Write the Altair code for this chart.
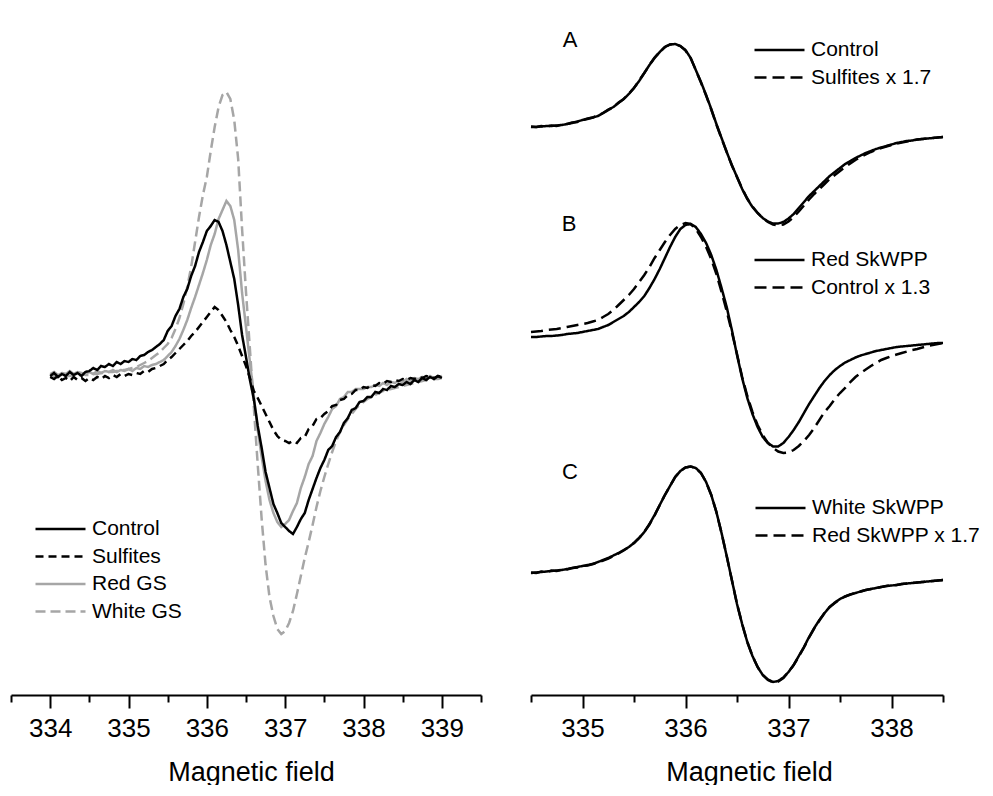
import altair as alt
import pandas as pd

FONT = "Liberation Sans"

# ---------------- left panel data (field in G, signal in a.u.) ----------------
field_left = [334.00, 334.05, 334.10, 334.15, 334.20, 334.25, 334.30, 334.35, 334.40, 334.45,
              334.50, 334.55, 334.60, 334.65, 334.70, 334.75, 334.80, 334.85, 334.90, 334.95,
              335.00, 335.05, 335.10, 335.15, 335.20, 335.25, 335.30, 335.35, 335.40, 335.45,
              335.50, 335.55, 335.60, 335.65, 335.70, 335.75, 335.80, 335.85, 335.90, 335.95,
              336.00, 336.05, 336.10, 336.15, 336.20, 336.25, 336.30, 336.35, 336.40, 336.45,
              336.50, 336.55, 336.60, 336.65, 336.70, 336.75, 336.80, 336.85, 336.90, 336.95,
              337.00, 337.05, 337.10, 337.15, 337.20, 337.25, 337.30, 337.35, 337.40, 337.45,
              337.50, 337.55, 337.60, 337.65, 337.70, 337.75, 337.80, 337.85, 337.90, 337.95,
              338.00, 338.05, 338.10, 338.15, 338.20, 338.25, 338.30, 338.35, 338.40, 338.45,
              338.50, 338.55, 338.60, 338.65, 338.70, 338.75, 338.80, 338.85, 338.90, 338.95, 339.00]

control = [1, 4, 0, 3, 1, 5, 2, 4, 1, 5,
           6, 9, 7, 11, 10, 13, 11, 15, 13, 16,
           15, 18, 17, 21, 22, 25, 27, 30, 33, 37,
           46, 51, 61, 68, 80, 88, 101, 111, 125, 135,
           146, 151, 157, 155, 146, 132, 115, 98, 72, 42,
           20, -3, -22, -49, -71, -95, -111, -127, -136, -146,
           -150, -154, -157, -150, -142, -136, -123, -112, -101, -91,
           -83, -73, -69, -60, -55, -46, -41, -33, -31, -25,
           -24, -20, -20, -15, -16, -12, -13, -9, -10, -7,
           -8, -5, -7, -3, -5, -1, -3, 0, -2, 1, -1]

sulfites = [0, -2, 1, -3, -1, -4, 0, -3, -1, -4,
            -1, -3, 0, -2, 1, -1, 2, 0, 3, 1,
            3, 2, 4, 3, 6, 5, 8, 9, 11, 13,
            17, 20, 24, 28, 32, 36, 41, 45, 50, 55,
            60, 65, 70, 67, 61, 55, 47, 40, 31, 21,
            11, -1, -14, -21, -29, -37, -45, -53, -59, -63,
            -64, -66, -64, -66, -61, -60, -52, -49, -42, -41,
            -37, -34, -29, -28, -23, -22, -18, -17, -13, -13,
            -10, -11, -8, -9, -6, -7, -4, -5, -3, -4,
            -2, -3, -1, -2, 0, -1, 1, 0, -1, 1, 0]

red_gs = [3, 5, 2, 4, 3, 6, 3, 5, 4, 3,
          5, 3, 6, 4, 6, 5, 7, 5, 7, 6,
          8, 6, 9, 8, 11, 10, 12, 13, 15, 17,
          21, 25, 31, 38, 47, 57, 69, 80, 92, 104,
          117, 132, 143, 158, 167, 176, 171, 157, 127, 84,
          50, 15, -19, -53, -80, -104, -123, -136, -145, -150,
          -147, -143, -134, -126, -111, -100, -87, -79, -64, -56,
          -47, -40, -32, -29, -22, -20, -15, -15, -12, -12,
          -12, -10, -10, -8, -9, -6, -8, -5, -6, -4,
          -5, -2, -4, -1, -2, 0, -2, 1, -1, 0, 1]

white_gs = [0, 1, 0, 2, 1, 1, 2, 1, 3, 2,
            2, 3, 3, 4, 4, 5, 5, 6, 7, 7,
            8, 9, 10, 12, 14, 16, 19, 22, 25, 29,
            33, 39, 48, 59, 73, 90, 110, 135, 160, 182,
            200, 226, 250, 270, 282, 285, 278, 257, 218, 148,
            85, 28, -30, -88, -142, -188, -220, -239, -252, -257,
            -254, -246, -234, -217, -199, -181, -165, -148, -130, -114,
            -100, -87, -75, -64, -55, -48, -42, -37, -32, -28,
            -25, -22, -20, -18, -16, -14, -13, -12, -11, -10,
            -9, -8, -7, -6, -5, -4, -3, -3, -2, -2, -1]

# ---------------- right panel data ----------------
field_right = [334.50, 334.55, 334.60, 334.65, 334.70, 334.75, 334.80, 334.85, 334.90, 334.95,
               335.00, 335.05, 335.10, 335.15, 335.20, 335.25, 335.30, 335.35, 335.40, 335.45,
               335.50, 335.55, 335.60, 335.65, 335.70, 335.75, 335.80, 335.85, 335.90, 335.95,
               336.00, 336.05, 336.10, 336.15, 336.20, 336.25, 336.30, 336.35, 336.40, 336.45,
               336.50, 336.55, 336.60, 336.65, 336.70, 336.75, 336.80, 336.85, 336.90, 336.95,
               337.00, 337.05, 337.10, 337.15, 337.20, 337.25, 337.30, 337.35, 337.40, 337.45,
               337.50, 337.55, 337.60, 337.65, 337.70, 337.75, 337.80, 337.85, 337.90, 337.95,
               338.00, 338.05, 338.10, 338.15, 338.20, 338.25, 338.30, 338.35, 338.40, 338.45, 338.50]

a_control = [0, 0, 0.5, 1, 1, 1.5, 2, 3, 4, 5.5,
             7, 8, 9.5, 11, 14, 17, 20, 24, 28, 33,
             39, 46, 54, 62, 69, 75, 80, 82.5, 83, 81,
             77, 69, 57, 45, 32, 18, 3, -11, -25, -38,
             -50, -62, -72, -80, -86, -91, -94.5, -96.5, -96.5, -95,
             -91.5, -87, -81, -75, -69, -64, -59, -54, -49, -45,
             -41, -37, -34, -31, -28.5, -26, -24, -22, -20.5, -19,
             -17.5, -16, -15, -14, -13.5, -12.5, -12, -11.5, -11, -10.5, -10]

a_sulfites = [0.5, 0, 1, 0.5, 1.5, 1, 2.5, 3, 4.5, 5,
              7, 8.5, 9.5, 11.5, 14, 17.5, 20, 24.5, 28, 33.5,
              39, 46.5, 54, 62, 69.5, 75, 80, 82.5, 83, 81,
              76.5, 69, 57, 44.5, 31.5, 17.5, 2.5, -11.5, -25, -38.5,
              -50, -61.5, -71.5, -79.5, -86, -91, -95, -97.5, -98.5, -97.5,
              -94.5, -90, -84.5, -78.5, -72.5, -67, -62, -57, -52, -48,
              -44, -40, -36.5, -33, -30, -27.5, -25, -23, -21, -19.5,
              -18, -16.5, -15.5, -14.5, -13.5, -12.5, -12, -11.5, -11, -10.5, -10]

b_red = [0, 0, 0.5, 1, 1, 1.5, 2, 3, 3.5, 4,
         5, 6, 7, 8, 10, 12, 15, 18, 21, 25,
         30, 35, 41, 49, 58, 68, 79, 90, 100, 108,
         112, 113, 110, 103, 94, 82, 67, 49, 30, 7,
         -18, -41, -61, -77, -90, -100, -106, -109.5, -109.5, -106,
         -100, -93, -85, -76, -67, -59, -51, -44, -38, -33,
         -29, -25.5, -23, -20.5, -18.5, -17, -15.5, -14, -13, -12,
         -11, -10, -9.5, -9, -8.5, -8, -7.5, -7, -6.5, -6, -6]

b_control = [5, 5.5, 6, 7, 7.5, 8, 9, 10, 11, 12,
             13, 14, 15.5, 17, 20, 23, 27, 32, 37, 42,
             48, 55, 62, 70, 79, 87, 95, 102, 108, 112,
             114, 113, 108, 100, 90, 78, 63, 45, 26, 5,
             -17, -40, -59, -75, -88, -98, -106, -111, -114.5, -116,
             -115.5, -113, -109, -104, -98, -91, -83, -75, -69, -62,
             -56, -51, -45, -40, -36, -32.5, -29, -26, -23, -21,
             -19, -17.5, -16, -14.5, -13, -12, -10.5, -9, -8, -7, -6]

c_white = [0, 0.5, 1, 1.5, 2, 2.5, 3, 4, 5, 6,
           7, 8, 9, 11, 13, 15, 17.5, 20, 23, 26,
           30, 35, 41, 49, 58, 68, 78, 87, 96, 102,
           105.5, 106.5, 105, 100, 91, 78, 61, 40, 17, -7,
           -31, -51, -69, -83, -94, -102, -106.5, -109, -108, -104.5,
           -99, -92, -83, -74, -64, -55, -47, -40, -34, -29.5,
           -26, -23.5, -21.5, -20, -18.5, -17, -16, -15, -14, -13,
           -12.5, -12, -11, -10.5, -10, -9.5, -9, -8.5, -8, -7.5, -7]

c_red = [0.5, 0, 1.5, 1, 2.5, 2, 3.5, 3.5, 5, 5.5,
         7, 7.5, 9, 10.5, 12.5, 14.5, 17, 19.5, 22.5, 26,
         30, 35, 41, 48.5, 57.5, 68, 78, 87, 96, 102,
         105.5, 106.5, 105, 100, 91, 78, 61, 40, 17, -7,
         -31, -51, -69, -83, -94, -102, -107, -109.5, -108.5, -105,
         -99, -92, -83.5, -74.5, -64.5, -55.5, -47.5, -40, -34, -30,
         -26, -23.5, -21.5, -20, -18.5, -17, -16, -15, -14, -13,
         -12.5, -12, -11, -10.5, -10, -9.5, -9, -8.5, -8, -7.5, -7]

for s in (control, sulfites, red_gs, white_gs):
    assert len(s) == len(field_left), len(s)
for s in (a_control, a_sulfites, b_red, b_control, c_white, c_red):
    assert len(s) == len(field_right), len(s)

left_ticks_major = [334, 335, 336, 337, 338, 339]
left_ticks_minor = [333.5, 334.5, 335.5, 336.5, 337.5, 338.5, 339.5]
right_ticks_major = [335, 336, 337, 338]
right_ticks_minor = [334.5, 335.5, 336.5, 337.5, 338.5]


def long_df(xs, pairs, offset=0.0):
    rows = []
    for name, vals in pairs:
        for f, v in zip(xs, vals):
            rows.append({"field": f, "value": offset + v, "series": name})
    return pd.DataFrame(rows)


def minor_axis(vals):
    return alt.Axis(values=vals, orient="bottom", tickSize=7, tickWidth=2, tickColor="black",
                    labels=False, title=None, domain=True, domainWidth=2,
                    domainColor="black", grid=False)


def major_axis(vals, title_x):
    return alt.Axis(values=vals, orient="bottom", tickSize=13, tickWidth=2, tickColor="black",
                    domain=False, grid=False, format="d",
                    labelFont=FONT, labelFontSize=26, labelColor="black",
                    labelPadding=7, labelFlush=False, labelOverlap=False,
                    title="Magnetic field", titleFont=FONT, titleFontSize=27,
                    titleFontWeight="normal", titleColor="black", titlePadding=18,
                    titleX=title_x)


def make_legend(lx, ly):
    return alt.Legend(title=None, orient="none", legendX=lx, legendY=ly,
                      symbolType="stroke", symbolSize=2500, symbolStrokeWidth=2.5,
                      labelFont=FONT, labelFontSize=21, labelColor="black", labelLimit=400,
                      labelOffset=5, clipHeight=22, rowPadding=5.5, padding=0)


# ---------------- left chart ----------------
x_left = alt.Scale(domain=[333.5, 339.5], nice=False, zero=False)
y_left = alt.Scale(domain=[-318, 369], nice=False, zero=False)

left_names = ["Control", "Sulfites", "Red GS", "White GS"]
left_colors = ["#000000", "#000000", "#a6a6a6", "#a6a6a6"]
left_dashes = [[1, 0], [8, 5], [1, 0], [10, 5]]
left_draw = [("White GS", white_gs), ("Red GS", red_gs), ("Sulfites", sulfites), ("Control", control)]
left_leg = make_legend(23, 510)

left_layers = []
for name, vals in left_draw:
    left_layers.append(
        alt.Chart(long_df(field_left, [(name, vals)])).mark_line(strokeWidth=2.5, strokeCap="butt").encode(
            x=alt.X("field:Q", scale=x_left, axis=minor_axis(left_ticks_minor)),
            y=alt.Y("value:Q", scale=y_left, axis=None),
            color=alt.Color("series:N", scale=alt.Scale(domain=left_names, range=left_colors), legend=left_leg),
            strokeDash=alt.StrokeDash("series:N", scale=alt.Scale(domain=left_names, range=left_dashes), legend=left_leg),
        )
    )
left_lines = alt.layer(*left_layers)
left_axis = alt.Chart(long_df(field_left, [("Control", control)])).mark_point(opacity=0).encode(
    x=alt.X("field:Q", scale=x_left, axis=major_axis(left_ticks_major, 240)),
    y=alt.Y("value:Q", scale=y_left, axis=None),
)
left = alt.layer(left_lines, left_axis).resolve_scale(x="independent").properties(width=470, height=687)

# ---------------- right chart ----------------
x_right = alt.Scale(domain=[334.5, 338.5], nice=False, zero=False)
y_right = alt.Scale(domain=[0, 687], nice=False, zero=False)

groups = [
    ([("Control", a_control), ("Sulfites x 1.7", a_sulfites)], 568, (222, 31)),
    ([("Red SkWPP", b_red), ("Control x 1.3", b_control)], 358, (222, 241)),
    ([("White SkWPP", c_white), ("Red SkWPP x 1.7", c_red)], 122, (223, 489)),
]

right_layers = []
for pairs, offset, (lx, ly) in groups:
    names = [p[0] for p in pairs]
    leg = make_legend(lx, ly)
    right_layers.append(
        alt.Chart(long_df(field_right, pairs, offset)).mark_line(strokeWidth=2.5, strokeCap="butt").encode(
            x=alt.X("field:Q", scale=x_right, axis=minor_axis(right_ticks_minor)),
            y=alt.Y("value:Q", scale=y_right, axis=None),
            color=alt.Color("series:N", scale=alt.Scale(domain=names, range=["#000000", "#000000"]), legend=leg),
            strokeDash=alt.StrokeDash("series:N", scale=alt.Scale(domain=names, range=[[1, 0], [12, 6]]), legend=leg),
        )
    )

panel_labels = ["A", "B", "C"]
label_pos = [(39, 32), (38, 216), (39, 464)]
for lab, (px, py) in zip(panel_labels, label_pos):
    right_layers.append(
        alt.Chart(pd.DataFrame({"label": [lab]})).mark_text(
            font=FONT, fontSize=22, color="black", align="center", baseline="middle"
        ).encode(text="label:N", x=alt.value(px), y=alt.value(py))
    )

right_inner = alt.layer(*right_layers).resolve_scale(color="independent", strokeDash="independent")
right_axis = alt.Chart(long_df(field_right, [("Control", a_control)], 568)).mark_point(opacity=0).encode(
    x=alt.X("field:Q", scale=x_right, axis=major_axis(right_ticks_major, 218)),
    y=alt.Y("value:Q", scale=y_right, axis=None),
)
right = alt.layer(right_inner, right_axis).resolve_scale(x="independent").properties(width=412, height=687)

chart = alt.hconcat(left, right, spacing=44).properties(
    padding={"left": 2, "top": 0, "right": 0, "bottom": 0},
    background="white",
).configure_view(stroke=None)

chart.save("out.html", embed_options={"renderer": "svg", "actions": False})
